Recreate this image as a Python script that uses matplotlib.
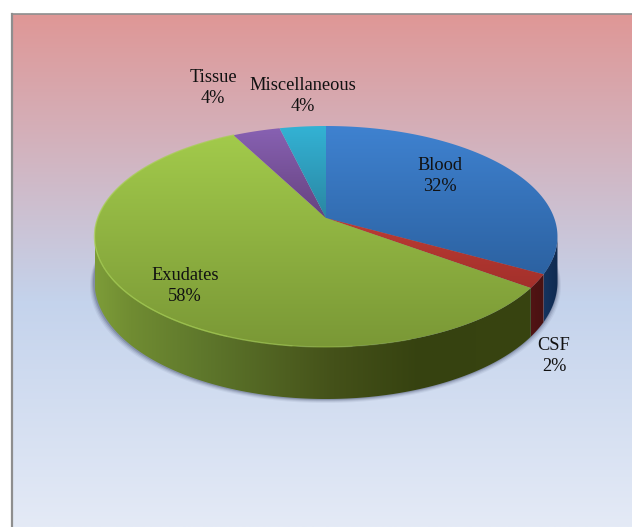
import numpy as np
import matplotlib
matplotlib.use("Agg")
import matplotlib.pyplot as plt
from matplotlib.colors import LinearSegmentedColormap
from matplotlib.patches import Polygon

# slice shares as measured on the picture, the printed labels are rounded differently
categories = ["Blood", "CSF", "Exudates", "Tissue", "Miscellaneous"]
shares = [33.0, 2.0, 57.3, 3.9, 3.8]
percent_labels = ["32%", "2%", "58%", "4%", "4%"]

top_colors = [("#3F82D0", "#2C62A2"), ("#BC3C34", "#A3302B"), ("#A2CA4B", "#7A9836"),
              ("#8761B2", "#66427F"), ("#33B2D4", "#2A86A2")]
label_xy = [(440, 176), (554, 356), (185, 286), (213, 88), (303, 96)]

W, H = 632, 527
cx, apex_y = 326.0, 218.0
A, B, k = 228.2, 107.4, 0.1675


def project(theta, r=1.0):
    # theta clockwise from the top of the pie, perspective squash of the disc
    u = r * np.sin(theta)
    v = r * np.cos(theta)
    d = 1 + k * v
    return cx + A * u / d, apex_y - B * v / d


def drop(theta):
    return 44 - 8 * np.cos(theta)


def wall_image(x, i):
    if i == 0:
        stops, cols = [540, 558], [(0x16, 0x36, 0x62), (0x10, 0x2A, 0x50)]
    elif i == 1:
        stops, cols = [525, 545], [(0x55, 0x14, 0x14), (0x48, 0x12, 0x12)]
    else:
        stops = [97, 130, 200, 333, 420, 532]
        cols = [(0x7C, 0x9B, 0x38), (0x70, 0x8C, 0x32), (0x5F, 0x78, 0x2C),
                (0x44, 0x51, 0x19), (0x36, 0x42, 0x10), (0x38, 0x44, 0x10)]
    cols = np.array(cols) / 255
    return np.stack([np.interp(x, stops, cols[:, c]) for c in range(3)], axis=-1)[None, :, :]


fig = plt.figure(figsize=(W / 100, H / 100), dpi=100)
ax = fig.add_axes([0, 0, 1, 1])
ax.axis("off")

# background gradient and frame
bg = LinearSegmentedColormap.from_list("bg", [(0, "#DF9796"), (0.56, "#C4D3EC"), (1, "#E4EAF6")])
ax.imshow(np.linspace(0, 1, 256).reshape(-1, 1), cmap=bg, extent=(12, W, H, 14), aspect="auto", zorder=0)
ax.plot([12, 12], [H, 13.5], color="#8E8E8E", lw=1.6, zorder=1)
ax.plot([12, W], [13.5, 13.5], color="#8E8E8E", lw=1.2, zorder=1)

edges = np.deg2rad(np.cumsum([0] + shares) * 3.6)

# soft shadow under the wall
th = np.linspace(np.deg2rad(60), np.deg2rad(300), 200)
sx, sy = project(th)
sy = sy + drop(th)
for grow, alpha in [(4.0, 0.08), (3.0, 0.12), (2.0, 0.18), (1.0, 0.28)]:
    ax.fill(cx + (sx - cx) * (1 + grow / 230) - 0.5, sy + grow, color="#4A5472", alpha=alpha, lw=0, zorder=2)

# side wall, only the part facing the viewer
front_start = np.pi - np.arccos(k)
front_end = np.pi + np.arccos(k)
for i in range(len(shares)):
    a0 = max(edges[i], front_start)
    a1 = min(edges[i + 1], front_end)
    if a1 <= a0:
        continue
    ts = np.linspace(a0, a1, 160)
    xs, ys = project(ts)
    pts = np.column_stack([np.r_[xs, xs[::-1]], np.r_[ys, (ys + drop(ts))[::-1]]])
    poly = Polygon(pts, facecolor="none", edgecolor="none", zorder=3)
    ax.add_patch(poly)
    x0, x1 = pts[:, 0].min(), pts[:, 0].max()
    im = ax.imshow(wall_image(np.linspace(x0, x1, 256), i), aspect="auto", zorder=3,
                   extent=(x0, x1, pts[:, 1].max(), pts[:, 1].min()))
    im.set_clip_path(poly)

# top face, each slice with its own vertical gradient
for i in range(len(shares)):
    ts = np.linspace(edges[i], edges[i + 1], 120)
    xs, ys = project(ts)
    pts = np.column_stack([np.r_[cx, xs], np.r_[apex_y, ys]])
    poly = Polygon(pts, facecolor="none", edgecolor="none", zorder=4)
    ax.add_patch(poly)
    cmap = LinearSegmentedColormap.from_list("s%d" % i, top_colors[i])
    im = ax.imshow(np.linspace(0, 1, 128).reshape(-1, 1), cmap=cmap, aspect="auto", zorder=4,
                   extent=(pts[:, 0].min(), pts[:, 0].max(), pts[:, 1].max(), pts[:, 1].min()))
    im.set_clip_path(poly)

# light rim round the left part of the green slice, fading out towards the front
for start, alpha in [(0.90, 0.2), (0.97, 0.25), (1.04, 0.3), (1.12, 0.3)]:
    ts = np.linspace(np.pi * start, edges[3], 200)
    rx, ry = project(ts)
    ax.plot(rx, ry, color="#A8D052", lw=1.0, alpha=alpha, zorder=5)

for name, pct, (lx, ly) in zip(categories, percent_labels, label_xy):
    ax.text(lx, ly, name + "\n" + pct, ha="center", va="center", family="Liberation Serif",
            fontsize=13.2, color="#111111", linespacing=1.28, zorder=6)

ax.set_xlim(0, W)
ax.set_ylim(H, 0)

fig.savefig("out.png", dpi=100)
